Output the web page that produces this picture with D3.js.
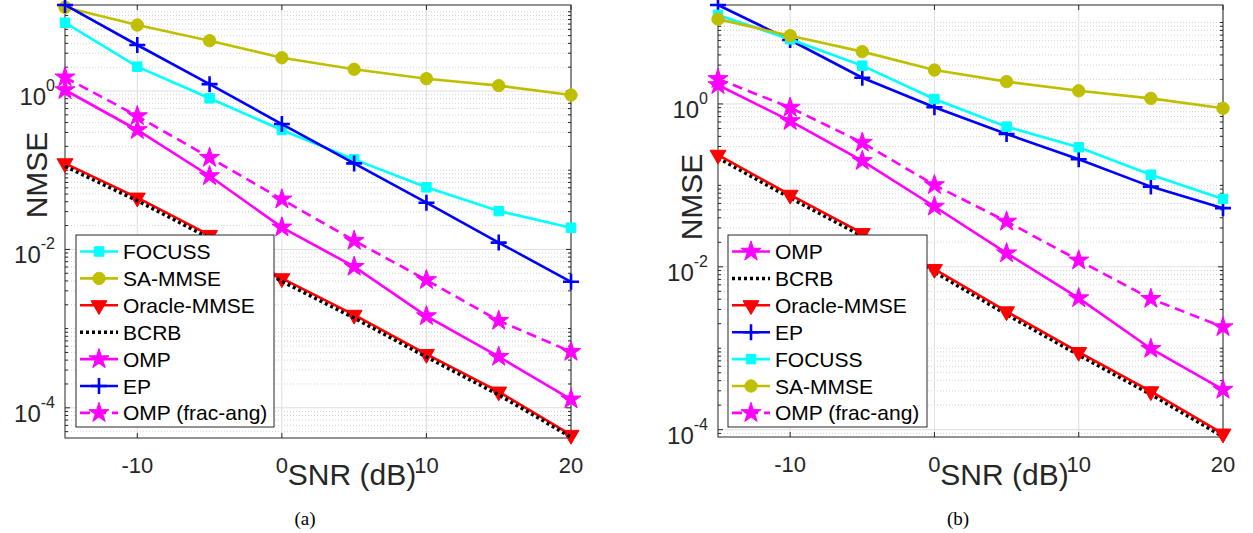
<!DOCTYPE html>
<html><head><meta charset="utf-8">
<script src="https://cdn.jsdelivr.net/npm/d3@7"></script>
<style>body{margin:0;background:#fff}svg{display:block}</style>
</head><body>
<svg id="chart" width="1253" height="533"></svg>
<script>
// ---------- data ----------
const snr = [-15, -10, -5, 0, 5, 10, 15, 20];
const xTicks = [-10, 0, 10, 20];
const xTickLabels = ["-10", "0", "10", "20"];
const yTickExps = [-4, -2, 0];

// panel (a)
const a_FOCUSS  = [7.28, 2.03, 0.809, 0.322, 0.137, 0.0608, 0.0305, 0.0188];
const a_SAMMSE  = [11.4, 6.81, 4.32, 2.63, 1.88, 1.43, 1.17, 0.89];
const a_Oracle  = [0.122, 0.045, 0.0152, 0.00431, 0.00149, 0.000477, 0.00016, 0.0000454];
const a_BCRB    = [0.112, 0.0412, 0.0139, 0.00395, 0.00136, 0.000438, 0.000146, 0.0000427];
const a_OMP     = [1.03, 0.322, 0.0845, 0.019, 0.00605, 0.00144, 0.000442, 0.000128];
const a_EP      = [12.2, 3.81, 1.22, 0.383, 0.122, 0.0389, 0.0122, 0.0039];
const a_OMPfrac = [1.49, 0.483, 0.144, 0.0429, 0.0129, 0.00411, 0.00126, 0.000511];
const a_yLim    = [-4.381, 1.086];

// panel (b)
const b_OMP     = [1.71, 0.618, 0.2, 0.055, 0.0147, 0.00413, 0.000986, 0.00031];
const b_BCRB    = [0.217, 0.0702, 0.0238, 0.00861, 0.0026, 0.000824, 0.000271, 0.000082];
const b_Oracle  = [0.237, 0.0764, 0.0259, 0.00938, 0.00283, 0.000897, 0.000295, 0.0000893];
const b_EP      = [16.4, 6.1, 2.1, 0.912, 0.428, 0.209, 0.0966, 0.0525];
const b_FOCUSS  = [12.4, 6.22, 2.95, 1.15, 0.526, 0.294, 0.135, 0.0682];
const b_SAMMSE  = [11.0, 6.89, 4.39, 2.61, 1.88, 1.45, 1.17, 0.885];
const b_OMPfrac = [2.03, 0.902, 0.335, 0.101, 0.036, 0.012, 0.00405, 0.00182];
const b_yLim    = [-4.09, 1.215];

// ---------- styles ----------
const STY = {
  "FOCUSS":          {color:"#00ffff", marker:"square",  dash:null},
  "SA-MMSE":         {color:"#bfbf00", marker:"circle",  dash:null},
  "Oracle-MMSE":     {color:"#ff0000", marker:"tridown", dash:null},
  "BCRB":            {color:"#000000", marker:null,      dash:"3,3", width:3.5},
  "OMP":             {color:"#ff00ff", marker:"star",    dash:null},
  "EP":              {color:"#0000ff", marker:"plus",    dash:null},
  "OMP (frac-ang)":  {color:"#ff00ff", marker:"star",    dash:"10,6"}
};

const panels = [
  {
    left:65, right:571, top:5, bottom:438, yLim:a_yLim,
    series:[["FOCUSS",a_FOCUSS],["SA-MMSE",a_SAMMSE],["Oracle-MMSE",a_Oracle],["BCRB",a_BCRB],
            ["OMP",a_OMP],["EP",a_EP],["OMP (frac-ang)",a_OMPfrac]],
    legend:{x:76, y:235, w:198, h:192},
    ylab:{x:47, y:175}, caption:"(a)", capX:305
  },
  {
    left:718, right:1223, top:5, bottom:437, yLim:b_yLim,
    series:[["OMP",b_OMP],["BCRB",b_BCRB],["Oracle-MMSE",b_Oracle],["EP",b_EP],
            ["FOCUSS",b_FOCUSS],["SA-MMSE",b_SAMMSE],["OMP (frac-ang)",b_OMPfrac]],
    legend:{x:728, y:235, w:199, h:192},
    ylab:{x:702, y:197}, caption:"(b)", capX:958
  }
];

const svg = d3.select("#chart");
const TXT = "#262626";
const FONT = "'Liberation Sans', Arial, Helvetica, sans-serif";

function drawMarker(g, type, x, y, color) {
  if (!type) return;
  if (type === "plus") {
    g.append("path").attr("d", `M${x-8},${y}H${x+8}M${x},${y-8}V${y+8}`)
      .attr("stroke", color).attr("stroke-width", 2.6).attr("fill", "none");
    return;
  }
  let sym, size, rot = 0;
  if (type === "circle") { sym = d3.symbolCircle; size = 120; }
  else if (type === "square") { sym = d3.symbolSquare; size = 90; }
  else if (type === "star") { sym = d3.symbolStar; size = 125; }
  else if (type === "tridown") { sym = d3.symbolTriangle; size = 110; rot = 180; }
  g.append("path").attr("d", d3.symbol().type(sym).size(size)())
    .attr("transform", `translate(${x},${y}) rotate(${rot})`)
    .attr("fill", color).attr("stroke", color).attr("stroke-width", 1);
}

panels.forEach(p => {
  const x = d3.scaleLinear().domain([-15, 20]).range([p.left, p.right]);
  const y = d3.scaleLog().domain([Math.pow(10, p.yLim[0]), Math.pow(10, p.yLim[1])]).range([p.bottom, p.top]);
  const g = svg.append("g");

  // minor / major y values
  const minor = [], major = [];
  for (let k = Math.floor(p.yLim[0]); k <= Math.ceil(p.yLim[1]); k++) {
    for (let m = 1; m <= 9; m++) {
      const v = m * Math.pow(10, k);
      const lv = Math.log10(v);
      if (lv < p.yLim[0] - 1e-9 || lv > p.yLim[1] + 1e-9) continue;
      if (m === 1 && yTickExps.includes(k)) major.push(v); else minor.push(v);
    }
  }
  // grid
  g.selectAll(".mg").data(minor).enter().append("line")
    .attr("x1", p.left).attr("x2", p.right).attr("y1", d => y(d)).attr("y2", d => y(d))
    .attr("stroke", "#c8c8c8").attr("stroke-width", 0.8).attr("stroke-dasharray", "1,2");
  g.selectAll(".Mg").data(major).enter().append("line")
    .attr("x1", p.left).attr("x2", p.right).attr("y1", d => y(d)).attr("y2", d => y(d))
    .attr("stroke", "#dedede").attr("stroke-width", 1);
  g.selectAll(".xg").data(xTicks).enter().append("line")
    .attr("x1", d => x(d)).attr("x2", d => x(d)).attr("y1", p.top).attr("y2", p.bottom)
    .attr("stroke", "#dedede").attr("stroke-width", 1);

  // box
  g.append("rect").attr("x", p.left).attr("y", p.top).attr("width", p.right - p.left).attr("height", p.bottom - p.top)
    .attr("fill", "none").attr("stroke", TXT).attr("stroke-width", 1);

  // ticks (inward, both sides)
  minor.forEach(v => {
    [[p.left, 1], [p.right, -1]].forEach(([xx, s]) => {
      g.append("line").attr("x1", xx).attr("x2", xx + s * 3).attr("y1", y(v)).attr("y2", y(v)).attr("stroke", TXT).attr("stroke-width", 1);
    });
  });
  major.forEach(v => {
    [[p.left, 1], [p.right, -1]].forEach(([xx, s]) => {
      g.append("line").attr("x1", xx).attr("x2", xx + s * 5).attr("y1", y(v)).attr("y2", y(v)).attr("stroke", TXT).attr("stroke-width", 1);
    });
  });
  xTicks.forEach(t => {
    [[p.bottom, -1], [p.top, 1]].forEach(([yy, s]) => {
      g.append("line").attr("x1", x(t)).attr("x2", x(t)).attr("y1", yy).attr("y2", yy + s * 5).attr("stroke", TXT).attr("stroke-width", 1);
    });
  });

  // y tick labels
  yTickExps.forEach(k => {
    const v = Math.pow(10, k);
    const t = g.append("text").attr("x", p.left - 10).attr("y", y(v) + 14)
      .attr("text-anchor", "end").attr("fill", TXT).attr("font-family", FONT).attr("font-size", 24);
    t.append("tspan").text("10");
    t.append("tspan").attr("dy", -14).attr("font-size", 16).text(String(k));
  });
  // x tick labels
  xTicks.forEach((tk, i) => {
    g.append("text").attr("x", x(tk)).attr("y", p.bottom + 35).attr("text-anchor", "middle")
      .attr("fill", TXT).attr("font-family", FONT).attr("font-size", 22).text(xTickLabels[i]);
  });

  // axis labels
  const cx = (p.left + p.right) / 2;
  g.append("text").attr("x", cx + 34).attr("y", 485).attr("text-anchor", "middle")
    .attr("fill", TXT).attr("font-family", FONT).attr("font-size", 30).text("SNR (dB)");
  g.append("text").attr("transform", `translate(${p.ylab.x},${p.ylab.y}) rotate(-90)`).attr("text-anchor", "middle")
    .attr("fill", TXT).attr("font-family", FONT).attr("font-size", 30).text("NMSE");
  g.append("text").attr("x", p.capX).attr("y", 525).attr("text-anchor", "middle")
    .attr("fill", "#000").attr("font-family", "'Liberation Serif', 'Times New Roman', serif").attr("font-size", 19).text(p.caption);

  // series
  const line = d3.line().x((d, i) => x(snr[i])).y(d => y(d));
  p.series.forEach(([name, vals]) => {
    const st = STY[name];
    g.append("path").attr("d", line(vals)).attr("fill", "none").attr("stroke", st.color)
      .attr("stroke-width", st.width || 2.6).attr("stroke-dasharray", st.dash);
    vals.forEach((v, i) => drawMarker(g, st.marker, x(snr[i]), y(v), st.color));
  });

  // legend
  const L = p.legend;
  g.append("rect").attr("x", L.x).attr("y", L.y).attr("width", L.w).attr("height", L.h)
    .attr("fill", "#fff").attr("stroke", TXT).attr("stroke-width", 1);
  p.series.forEach(([name], i) => {
    const st = STY[name];
    const ry = L.y + 16.5 + i * 26.9;
    g.append("line").attr("x1", L.x + 4).attr("x2", L.x + 42).attr("y1", ry).attr("y2", ry)
      .attr("stroke", st.color).attr("stroke-width", st.width || 2.6).attr("stroke-dasharray", st.dash);
    drawMarker(g, st.marker, L.x + 23, ry, st.color);
    g.append("text").attr("x", L.x + 47).attr("y", ry + 7.5).attr("fill", "#000")
      .attr("font-family", FONT).attr("font-size", 21).text(name);
  });
});
</script>
</body></html>
